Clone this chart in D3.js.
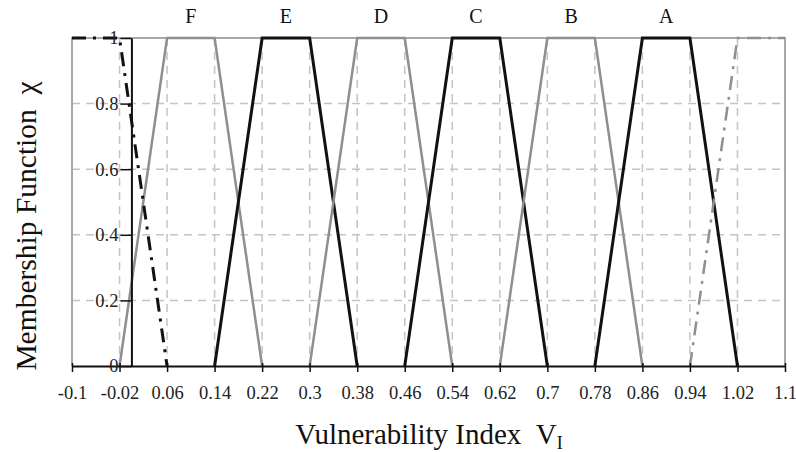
<!DOCTYPE html>
<html><head><meta charset="utf-8">
<script src="https://cdn.jsdelivr.net/npm/d3@7"></script>
<style>body{margin:0;background:#fff}svg{display:block}</style>
</head><body>
<svg id="c" width="796" height="452"></svg>
<script>
// ---- data ----
const classLabels = ["F", "E", "D", "C", "B", "A"];
const classColors = ["gray", "black", "gray", "black", "gray", "black"];
const xF = [-0.02, 0.06, 0.14, 0.22];
const xE = [0.14, 0.22, 0.30, 0.38];
const xD = [0.30, 0.38, 0.46, 0.54];
const xC = [0.46, 0.54, 0.62, 0.70];
const xB = [0.62, 0.70, 0.78, 0.86];
const xA = [0.78, 0.86, 0.94, 1.02];
const trapY = [0, 1, 1, 0];
const leftTailX = [-0.1, -0.02, 0.06];
const leftTailY = [1, 1, 0];
const rightTailX = [0.94, 1.02, 1.1];
const rightTailY = [0, 1, 1];
const xTicks = [-0.1, -0.02, 0.06, 0.14, 0.22, 0.30, 0.38, 0.46, 0.54, 0.62, 0.70, 0.78, 0.86, 0.94, 1.02, 1.1];
const xTickLabels = ["-0.1","-0.02","0.06","0.14","0.22","0.3","0.38","0.46","0.54","0.62","0.7","0.78","0.86","0.94","1.02","1.1"];
const yTicks = [0, 0.2, 0.4, 0.6, 0.8, 1];
const yTickLabels = ["0","0.2","0.4","0.6","0.8","1"];

// ---- chart ----
const svg = d3.select("#c");
const L = 72, R = 785, T = 38, B = 366;
const x = d3.scaleLinear().domain([-0.1, 1.1]).range([L, R]);
const y = d3.scaleLinear().domain([0, 1]).range([B, T]);
const serif = "'Liberation Serif', 'DejaVu Serif', serif";
const gray = "#8f8f8f", gridC = "#c4c4c4";

// grid
const g = svg.append("g");
g.selectAll("line.vg").data(xTicks.slice(1, -1)).join("line")
  .attr("x1", d => x(d)).attr("x2", d => x(d)).attr("y1", T).attr("y2", B)
  .attr("stroke", gridC).attr("stroke-width", 1.5).attr("stroke-dasharray", "8,6");
g.selectAll("line.hg").data(yTicks.slice(1, -1)).join("line")
  .attr("x1", L).attr("x2", R).attr("y1", d => y(d)).attr("y2", d => y(d))
  .attr("stroke", gridC).attr("stroke-width", 1.5).attr("stroke-dasharray", "8,6");

// border
svg.append("path").attr("d", `M${L},${B}V${T}H${R}V${B}`)
  .attr("fill", "none").attr("stroke", "#a8a8a8").attr("stroke-width", 2);

// curves
const line = d3.line().x(d => x(d[0])).y(d => y(d[1]));
const sets = [xF, xE, xD, xC, xB, xA];
sets.forEach((xs, i) => {
  const pts = xs.map((v, j) => [v, trapY[j]]);
  svg.append("path").attr("d", line(pts)).attr("fill", "none")
    .attr("stroke", classColors[i] === "black" ? "#111" : gray)
    .attr("stroke-width", classColors[i] === "black" ? 3 : 2.5)
    .attr("stroke-linejoin", "miter");
  svg.append("text").attr("x", x((xs[1] + xs[2]) / 2)).attr("y", 23)
    .attr("text-anchor", "middle").attr("font-family", serif).attr("font-size", 20)
    .attr("fill", "#111").text(classLabels[i]);
});
svg.append("path").attr("d", line(leftTailX.map((v, j) => [v, leftTailY[j]])))
  .attr("fill", "none").attr("stroke", "#111").attr("stroke-width", 3)
  .attr("stroke-dasharray", "14,7,3,7");
svg.append("path").attr("d", line(rightTailX.map((v, j) => [v, rightTailY[j]])))
  .attr("fill", "none").attr("stroke", gray).attr("stroke-width", 2.5)
  .attr("stroke-dasharray", "14,7,3,7");

// x axis
const xa = svg.append("g").attr("transform", `translate(0,${B})`)
  .call(d3.axisBottom(x).tickValues(xTicks).tickFormat((d, i) => xTickLabels[i]).tickSizeInner(6).tickSizeOuter(0).tickPadding(14));
xa.select(".domain").attr("stroke", "#111").attr("stroke-width", 2);
xa.selectAll(".tick line").attr("stroke", "#111").attr("stroke-width", 1.5).attr("y1", -3);
xa.selectAll(".tick text").attr("font-family", serif).attr("font-size", 18.5).attr("fill", "#222");

// y axis at x = 0
const ya = svg.append("g").attr("transform", `translate(${x(0)},0)`)
  .call(d3.axisLeft(y).tickValues(yTicks).tickFormat((d, i) => yTickLabels[i]).tickSizeInner(11).tickSizeOuter(0).tickPadding(2));
ya.select(".domain").attr("stroke", "#111").attr("stroke-width", 2);
ya.selectAll(".tick line").attr("stroke", "#111").attr("stroke-width", 1.5);
ya.selectAll(".tick text").attr("font-family", serif).attr("font-size", 18.5).attr("fill", "#222");

// titles
const xt = svg.append("text").attr("x", 429).attr("y", 444).attr("text-anchor", "middle")
  .attr("font-family", serif).attr("font-size", 29).attr("fill", "#111");
xt.append("tspan").text("Vulnerability Index\u00a0\u00a0V");
xt.append("tspan").attr("font-size", 18).attr("dy", 5).text("I");
svg.append("text").attr("transform", "translate(36,226) rotate(-90)").attr("text-anchor", "middle")
  .attr("font-family", serif).attr("font-size", 29.5).attr("fill", "#111")
  .text("Membership Function\u00a0\u00a0\u03c7");
</script>
</body></html>
